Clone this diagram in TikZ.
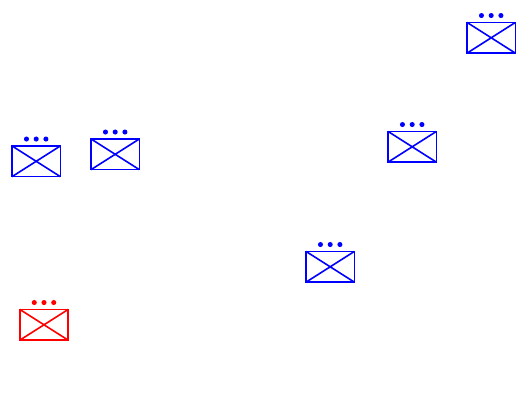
\documentclass[tikz,border=0pt]{standalone}
\usepackage{amsmath}
\usetikzlibrary{positioning}
\tikzset{
  crate/.style={draw, line width=1.2pt, minimum width=36.2pt, minimum height=23pt, inner sep=0pt, outer sep=0pt},
  lamp/.style={circle, fill, inner sep=0pt, minimum size=3.8pt}
}
\begin{document}
\begin{tikzpicture}[x=0.75pt,y=-0.75pt]
\useasboundingbox (0,0) rectangle (525,420);
\foreach \name/\xx/\yy/\col in {a/36.2/161.3/blue,b/115.2/154.3/blue,c/412.2/146.8/blue,d/491.2/37.8/blue,e/330.2/266.8/blue,f/44/324.8/red} {
\node [crate, \col] (box\name) at (\xx,\yy) {};
\draw [\col, line width=1.2pt] (box\name.north west) -- (box\name.south east);
\draw [\col, line width=1.2pt] (box\name.south west) -- (box\name.north east);
\node [lamp, \col, above=3.1pt of box\name] (mid\name) {};
\node [lamp, \col, left=3.1pt of mid\name] (left\name) {};
\node [lamp, \col, right=3.1pt of mid\name] (right\name) {};
}
\end{tikzpicture}
\end{document}
